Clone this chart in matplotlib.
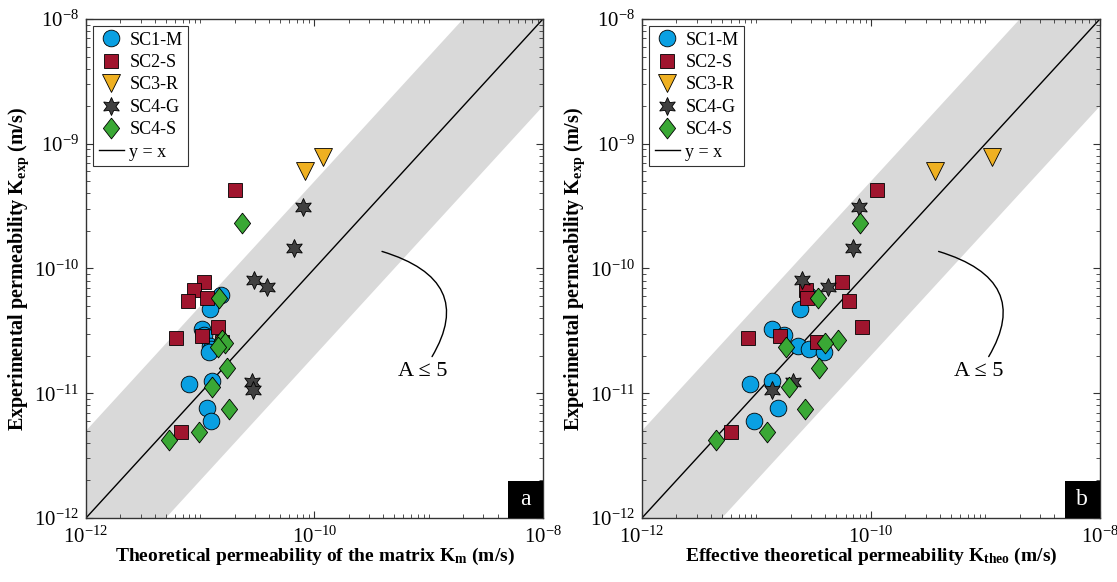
import numpy as np
import matplotlib
matplotlib.use("Agg")
import matplotlib.pyplot as plt
from matplotlib.patches import Rectangle
from matplotlib.ticker import LogLocator, LogFormatterMathtext, NullFormatter

plt.rcParams['font.family'] = ['Liberation Serif', 'DejaVu Serif']
plt.rcParams['mathtext.fontset'] = 'custom'
plt.rcParams['mathtext.rm'] = 'Liberation Serif'
plt.rcParams['mathtext.it'] = 'Liberation Serif:italic'
plt.rcParams['mathtext.bf'] = 'Liberation Serif:bold'

# ---- data (m/s) ----
# SC1-M
sc1m_kexp = [6.14e-11, 4.73e-11, 3.26e-11, 2.93e-11, 2.39e-11, 2.26e-11, 2.15e-11, 1.18e-11, 1.25e-11, 7.66e-12, 6.03e-12]
sc1m_km = [1.51e-11, 1.22e-11, 1.03e-11, 1.08e-11, 1.22e-11, 1.24e-11, 1.19e-11, 7.98e-12, 1.26e-11, 1.15e-11, 1.23e-11]
sc1m_ktheo = [2.83e-11, 2.40e-11, 1.36e-11, 1.74e-11, 2.32e-11, 2.89e-11, 3.91e-11, 8.77e-12, 1.36e-11, 1.53e-11, 9.57e-12]
# SC2-S
sc2s_kexp = [4.26e-10, 7.83e-11, 6.76e-11, 5.52e-11, 5.81e-11, 3.41e-11, 2.90e-11, 2.75e-11, 2.59e-11, 4.92e-12]
sc2s_km = [2.01e-11, 1.08e-11, 8.87e-12, 7.76e-12, 1.14e-11, 1.42e-11, 1.04e-11, 6.10e-12, 1.55e-11, 6.75e-12]
sc2s_ktheo = [1.13e-10, 5.54e-11, 2.69e-11, 6.46e-11, 2.74e-11, 8.30e-11, 1.62e-11, 8.47e-12, 3.40e-11, 5.98e-12]
# SC3-R
sc3r_kexp = [7.78e-10, 6.08e-10]
sc3r_km = [1.18e-10, 8.26e-11]
sc3r_ktheo = [1.14e-09, 3.62e-10]
# SC4-G
sc4g_kexp = [3.13e-10, 1.45e-10, 8.09e-11, 7.14e-11, 1.24e-11, 1.07e-11]
sc4g_km = [7.98e-11, 6.62e-11, 2.97e-11, 3.82e-11, 2.82e-11, 2.91e-11]
sc4g_ktheo = [7.85e-11, 7.00e-11, 2.48e-11, 4.19e-11, 2.10e-11, 1.36e-11]
# SC4-S
sc4s_kexp = [2.33e-10, 5.83e-11, 2.67e-11, 2.53e-11, 2.33e-11, 1.58e-11, 1.13e-11, 7.43e-12, 4.92e-12, 4.22e-12]
sc4s_km = [2.31e-11, 1.46e-11, 1.54e-11, 1.65e-11, 1.44e-11, 1.71e-11, 1.26e-11, 1.80e-11, 9.75e-12, 5.32e-12]
sc4s_ktheo = [8.02e-11, 3.44e-11, 5.15e-11, 3.96e-11, 1.81e-11, 3.53e-11, 1.92e-11, 2.66e-11, 1.24e-11, 4.42e-12]

A_max = 5
kmin, kmax = 1e-12, 1e-8

diamond = [(0, 1), (0.78, 0), (0, -1), (-0.78, 0), (0, 1)]
series = [
    ("SC1-M", sc1m_kexp, sc1m_km, sc1m_ktheo, dict(marker='o', ms=12, mfc='#0aa0e2')),
    ("SC2-S", sc2s_kexp, sc2s_km, sc2s_ktheo, dict(marker='s', ms=10, mfc='#a0152e')),
    ("SC3-R", sc3r_kexp, sc3r_km, sc3r_ktheo, dict(marker='v', ms=13, mfc='#efb021')),
    ("SC4-G", sc4g_kexp, sc4g_km, sc4g_ktheo, dict(marker=(6, 1, 0), ms=13, mfc='#404040')),
    ("SC4-S", sc4s_kexp, sc4s_km, sc4s_ktheo, dict(marker=diamond, ms=15, mfc='#3aa835')),
]

fig = plt.figure(figsize=(11.17, 5.82), dpi=100)
ax1 = fig.add_axes([0.0770, 0.1100, 0.4091, 0.8574])
ax2 = fig.add_axes([0.5747, 0.1100, 0.4100, 0.8574])

xlabels = [r'Theoretical permeability of the matrix K$_{\mathbf{m}}$ (m/s)',
           r'Effective theoretical permeability K$_{\mathbf{theo}}$ (m/s)']
tags = ['a', 'b']

for i, ax in enumerate([ax1, ax2]):
    xx = np.array([kmin, kmax])
    ax.fill_between(xx, xx / A_max, xx * A_max, color='#d9d9d9', lw=0, zorder=0)
    ax.plot(xx, xx, color='k', lw=1, label='y = x', zorder=1)

    for name, kexp, km, ktheo, st in series:
        xs = km if i == 0 else ktheo
        ax.plot(xs, kexp, ls='none', mec='k', mew=0.6, label=name, zorder=3, **st)

    ax.set_xscale('log')
    ax.set_yscale('log')
    ax.set_xlim(kmin, kmax)
    ax.set_ylim(kmin, kmax)

    ax.xaxis.set_major_locator(LogLocator(base=100))
    ax.xaxis.set_minor_locator(LogLocator(base=10, subs=np.arange(1, 10), numticks=20))
    ax.xaxis.set_major_formatter(LogFormatterMathtext())
    ax.xaxis.set_minor_formatter(NullFormatter())
    ax.yaxis.set_major_locator(LogLocator(base=10))
    ax.yaxis.set_minor_locator(LogLocator(base=10, subs=np.arange(2, 10), numticks=20))
    ax.yaxis.set_major_formatter(LogFormatterMathtext())
    ax.yaxis.set_minor_formatter(NullFormatter())
    ax.tick_params(which='both', direction='in', top=True, right=True, labelsize=15, color='#333333')
    ax.tick_params(which='major', length=5, width=0.8)
    ax.tick_params(which='minor', length=3, width=0.6)
    ax.tick_params(axis='x', pad=6)
    ax.tick_params(axis='y', pad=5)
    for sp in ax.spines.values():
        sp.set_color('#333333')
        sp.set_linewidth(1)

    ax.set_xlabel(xlabels[i], fontsize=14, fontweight='bold', labelpad=-1)
    ax.set_ylabel(r'Experimental permeability K$_{\mathbf{exp}}$ (m/s)', fontsize=14.5,
                  fontweight='bold', labelpad=2)

    # handle order in legend: markers first, line last
    h, l = ax.get_legend_handles_labels()
    h = h[1:] + h[:1]
    l = l[1:] + l[:1]
    leg = ax.legend(h, l, loc='upper left', fontsize=13, frameon=True, fancybox=False,
                    edgecolor='k', handlelength=1.4, handletextpad=0.3, labelspacing=0.3,
                    borderpad=0.3, borderaxespad=0.4, markerscale=1.0)
    leg.get_frame().set_linewidth(0.8)

    ax.annotate('A ≤ 5', xy=(3.9e-10, 1.37e-10), xytext=(8.8e-10, 1.5e-11),
                fontsize=16, ha='center', va='center',
                arrowprops=dict(arrowstyle='-', color='k', lw=1,
                                connectionstyle='arc3,rad=0.7', shrinkA=2, shrinkB=0))

    ax.add_patch(Rectangle((1 - 0.0766, 0), 0.0766, 0.0741, transform=ax.transAxes,
                           facecolor='k', edgecolor='none', zorder=5))
    ax.text(1 - 0.0383, 0.037, tags[i], transform=ax.transAxes, color='w', fontsize=17,
            ha='center', va='center', zorder=6)

fig.savefig('out.png', dpi=100)
